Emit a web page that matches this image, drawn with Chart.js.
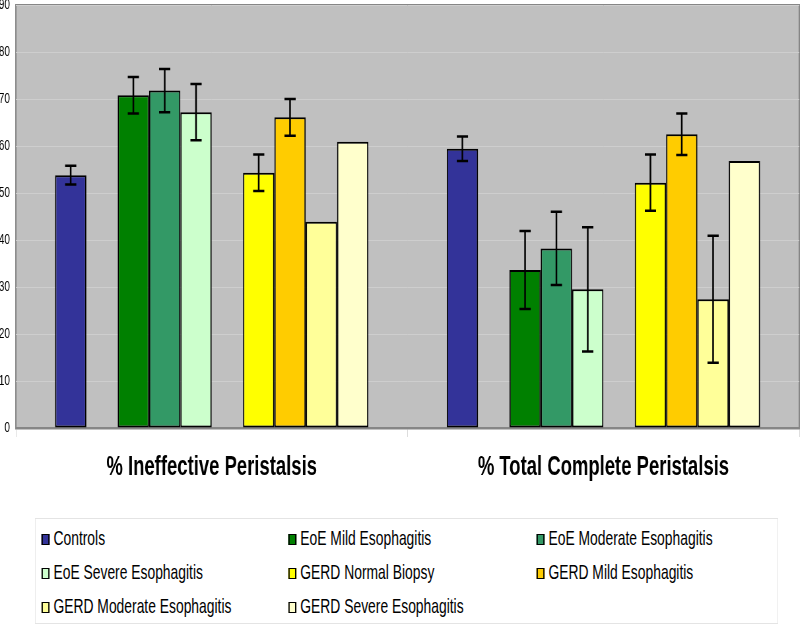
<!DOCTYPE html>
<html>
<head>
<meta charset="utf-8">
<script src="https://cdn.jsdelivr.net/npm/chart.js@4.4.1/dist/chart.umd.min.js"></script>
<style>
  html, body { margin: 0; padding: 0; background: #ffffff; overflow: hidden; }
  /* the original figure is squeezed sideways: lay out 1212px wide, show at 800px */
  #wrap {
    position: relative; width: 1212px; height: 625px;
    transform: scaleX(0.66); transform-origin: 0 0;
  }
  #chart { position: absolute; left: 0; top: 0; }
  #legend {
    position: absolute; left: 53px; top: 518px; width: 1126px; height: 106px;
    box-sizing: border-box; border: 1px solid #e4e4e4; background: #ffffff;
    font-family: "Liberation Sans", Arial, sans-serif;
    font-size: 21px; color: #000;
  }
  .item { position: absolute; height: 24px; line-height: 24px; white-space: nowrap; }
  .item i {
    display: inline-block; width: 12px; height: 11px; box-sizing: border-box;
    border: 1.5px solid #000; border-left-width: 2px; border-right-width: 2px;
    margin-right: 6px; vertical-align: 0px;
  }
</style>
</head>
<body>
<div id="wrap">
  <canvas id="chart" width="1212" height="625"></canvas>
  <div id="legend"></div>
</div>
<script>
// ---- data ----
const categories = ["% Ineffective Peristalsis", "% Total Complete Peristalsis"];

const seriesNames = [
  "Controls",
  "EoE Mild Esophagitis",
  "EoE Moderate Esophagitis",
  "EoE Severe Esophagitis",
  "GERD Normal Biopsy",
  "GERD Mild Esophagitis",
  "GERD Moderate Esophagitis",
  "GERD Severe Esophagitis"
];
const seriesColors = ["#333399", "#008000", "#339966", "#ccffcc", "#ffff00", "#ffcc00", "#ffff99", "#ffffcc"];

const controls = [53.8, 59.4];
const eoeMild = [70.8, 33.6];
const eoeModerate = [71.8, 38.2];
const eoeSevere = [67.2, 29.5];
const gerdNormal = [54.3, 52.2];
const gerdMild = [66.1, 62.5];
const gerdModerate = [43.9, 27.4];
const gerdSevere = [60.9, 56.8];

const controlsErr = [2.0, 2.6];
const eoeMildErr = [3.9, 8.3];
const eoeModerateErr = [4.6, 7.8];
const eoeSevereErr = [6.0, 13.2];
const gerdNormalErr = [3.9, 6.0];
const gerdMildErr = [3.9, 4.4];
const gerdModerateErr = [null, 13.5];
const gerdSevereErr = [null, null];

const yTicks = { min: 0, max: 90, step: 10 };

const seriesValues = [controls, eoeMild, eoeModerate, eoeSevere, gerdNormal, gerdMild, gerdModerate, gerdSevere];
const seriesErrors = [controlsErr, eoeMildErr, eoeModerateErr, eoeSevereErr, gerdNormalErr, gerdMildErr, gerdModerateErr, gerdSevereErr];

// empty slots between the groups (Controls | EoE | GERD)
const spacerAfter = [0, 3];

const sans = "\"Liberation Sans\", Arial, sans-serif";

function buildDatasets() {
  const out = [];
  seriesNames.forEach((name, i) => {
    out.push({
      label: name,
      data: seriesValues[i],
      errors: seriesErrors[i],
      backgroundColor: seriesColors[i],
      borderColor: "#000000",
      borderWidth: 2,
      borderSkipped: false
    });
    if (spacerAfter.includes(i)) {
      out.push({ label: "", data: [null, null], backgroundColor: "transparent", borderWidth: 0 });
    }
  });
  return out;
}

const plotBackground = {
  id: "plotBackground",
  beforeDraw(chart) {
    const { ctx, chartArea: a } = chart;
    ctx.save();
    ctx.fillStyle = "#c0c0c0";
    ctx.fillRect(a.left, a.top, a.right - a.left, a.bottom - a.top);
    ctx.strokeStyle = "#868686";
    ctx.lineWidth = 2;
    ctx.beginPath();
    ctx.moveTo(a.left, a.bottom);
    ctx.lineTo(a.left, a.top);
    ctx.lineTo(a.right, a.top);
    ctx.lineTo(a.right, a.bottom);
    ctx.stroke();
    ctx.restore();
  }
};

const errorBars = {
  id: "errorBars",
  afterDatasetsDraw(chart) {
    const { ctx } = chart;
    const yScale = chart.scales.y;
    ctx.save();
    ctx.strokeStyle = "#000000";
    ctx.lineWidth = 2.5;
    chart.data.datasets.forEach((ds, di) => {
      if (!ds.errors) return;
      const meta = chart.getDatasetMeta(di);
      ds.errors.forEach((err, i) => {
        if (err == null || ds.data[i] == null) return;
        const x = meta.data[i].x;
        const yHi = yScale.getPixelForValue(ds.data[i] + err);
        const yLo = yScale.getPixelForValue(ds.data[i] - err);
        ctx.beginPath();
        ctx.moveTo(x, yHi);
        ctx.lineTo(x, yLo);
        ctx.moveTo(x - 8.5, yHi);
        ctx.lineTo(x + 8.5, yHi);
        ctx.moveTo(x - 8.5, yLo);
        ctx.lineTo(x + 8.5, yLo);
        ctx.stroke();
      });
    });
    ctx.restore();
  }
};

new Chart(document.getElementById("chart").getContext("2d"), {
  type: "bar",
  data: { labels: categories, datasets: buildDatasets() },
  plugins: [plotBackground, errorBars],
  options: {
    responsive: false,
    animation: false,
    devicePixelRatio: 1,
    layout: { padding: { top: 5, right: 1, left: 0, bottom: 0 } },
    datasets: { bar: { categoryPercentage: 0.8, barPercentage: 1.0 } },
    plugins: { legend: { display: false }, tooltip: { enabled: false } },
    scales: {
      x: {
        afterFit(scale) { scale.height = 197; },
        grid: { drawOnChartArea: false, offset: true, tickLength: 9, color: "#d8d8d8" },
        border: { color: "#868686", width: 2.5 },
        ticks: {
          color: "#000000",
          padding: 13,
          font: { family: sans, size: 28, weight: "bold" }
        }
      },
      y: {
        min: yTicks.min,
        max: yTicks.max,
        afterFit(scale) {
          scale.width = 24;
          scale.paddingTop = 0;
          scale.paddingBottom = 0;
        },
        grid: { color: "#cecece", drawTicks: false },
        border: { display: false },
        ticks: {
          stepSize: yTicks.step,
          padding: 9,
          color: "#000000",
          font: { family: sans, size: 15 }
        }
      }
    }
  }
});

// ---- legend in a 3-column grid ----
const legendEl = document.getElementById("legend");
const colX = [9, 383, 759];
const rowY = [7, 41, 75];
seriesNames.forEach((name, i) => {
  const div = document.createElement("div");
  div.className = "item";
  div.style.left = colX[i % 3] + "px";
  div.style.top = rowY[Math.floor(i / 3)] + "px";
  const sw = document.createElement("i");
  sw.style.background = seriesColors[i];
  div.appendChild(sw);
  div.appendChild(document.createTextNode(name));
  legendEl.appendChild(div);
});
</script>
</body>
</html>
